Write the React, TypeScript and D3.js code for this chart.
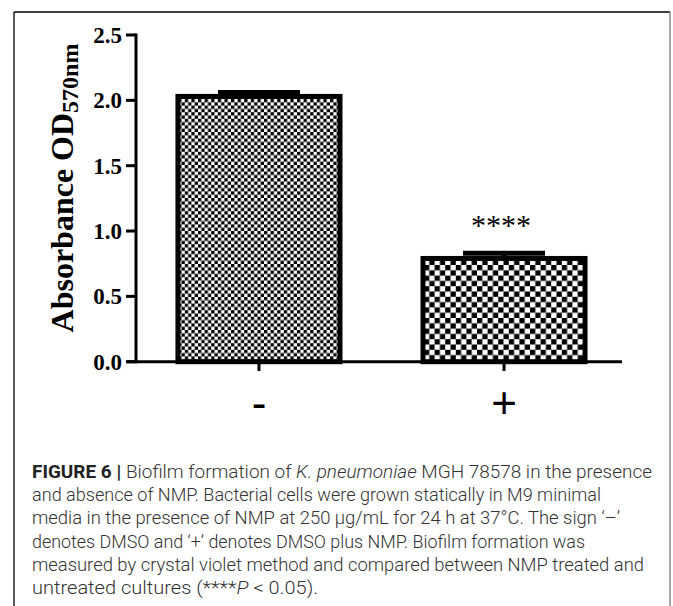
import React from "react";
import * as d3 from "d3";

const categories = ["-", "+"];
const means = [2.03, 0.79];
const errors = [0.03, 0.04];
const yTicks = [0, 0.5, 1.0, 1.5, 2.0, 2.5];
const significance = ["", "****"];
const patternCells = [3.3, 5.3];

const captionLines: { t: string; b?: boolean; i?: boolean }[][] = [
  [
    { t: "FIGURE 6 | ", b: true },
    { t: "Biofilm formation of " },
    { t: "K. pneumoniae", i: true },
    { t: " MGH 78578 in the presence" },
  ],
  [{ t: "and absence of NMP. Bacterial cells were grown statically in M9 minimal" }],
  [{ t: "media in the presence of NMP at 250 \u00b5g/mL for 24 h at 37\u00b0C. The sign \u2018\u2013\u2019" }],
  [{ t: "denotes DMSO and \u2018+\u2019 denotes DMSO plus NMP. Biofilm formation was" }],
  [{ t: "measured by crystal violet method and compared between NMP treated and" }],
  [{ t: "untreated cultures (****" }, { t: "P", i: true }, { t: " < 0.05)." }],
];

export default function App() {
  const W = 673;
  const H = 606;
  const axisX = 136;
  const captionWidths = [620, 569, 588, 553, 612, 286];
  const y = d3.scaleLinear().domain([0, 2.5]).range([361.7, 35]);
  const x = d3
    .scaleBand<string>()
    .domain(categories)
    .range([136, 627])
    .paddingInner(0.3184)
    .paddingOuter(0.161);
  const bw = x.bandwidth();
  const sw = 5;
  const y0 = y(0);

  return (
    <svg
      width={W}
      height={H}
      style={{ position: "absolute", left: 0, top: 0, background: "#fff" }}
    >
      <defs>
        {patternCells.map((c, i) => (
          <pattern
            key={i}
            id={`chk${i}`}
            patternUnits="userSpaceOnUse"
            width={2 * c}
            height={2 * c}
          >
            <rect width={2 * c} height={2 * c} fill="#fff" />
            <rect x={0} y={0} width={c} height={c} fill="#000" />
            <rect x={c} y={c} width={c} height={c} fill="#000" />
          </pattern>
        ))}
      </defs>

      {/* frame */}
      <line x1={14} y1={12} x2={14} y2={H} stroke="#222" strokeWidth={1.5} />
      <line x1={14} y1={12} x2={670} y2={12} stroke="#000" strokeWidth={1.5} />
      <line x1={670} y1={12} x2={670} y2={H} stroke="#888" strokeWidth={1.5} />

      {/* bars */}
      {categories.map((c, i) => {
        const x0 = x(c)!;
        const top = y(means[i]);
        const cx = x0 + bw / 2;
        const eTop = y(means[i] + errors[i]);
        return (
          <g key={c}>
            <line x1={cx} x2={cx} y1={top} y2={eTop} stroke="#000" strokeWidth={sw} />
            <line x1={cx - 41} x2={cx + 41} y1={eTop} y2={eTop} stroke="#000" strokeWidth={sw} />
            <rect
              x={x0 + sw / 2}
              y={top}
              width={bw - sw}
              height={y0 - top}
              fill={`url(#chk${i})`}
              stroke="#000"
              strokeWidth={sw}
            />
            {significance[i] && (
              <text
                x={cx - 3}
                y={235}
                textAnchor="middle"
                fontFamily="'Liberation Serif', 'Times New Roman', serif"
                fontSize={30}
              >
                {significance[i]}
              </text>
            )}
          </g>
        );
      })}

      {/* y axis */}
      <line x1={axisX} x2={axisX} y1={y(2.5) - 1.5} y2={y0 + 1.5} stroke="#000" strokeWidth={3} />
      {yTicks.map((t) => (
        <g key={t}>
          <line x1={126} x2={axisX} y1={y(t)} y2={y(t)} stroke="#000" strokeWidth={3} />
          <text
            x={122}
            y={y(t)}
            dy="0.35em"
            textAnchor="end"
            fontFamily="'Liberation Serif', 'Times New Roman', serif"
            fontWeight="bold"
            fontSize={23}
          >
            {t.toFixed(1)}
          </text>
        </g>
      ))}

      {/* x axis */}
      <line x1={126} x2={622} y1={y0} y2={y0} stroke="#000" strokeWidth={3} />
      {categories.map((c) => {
        const cx = x(c)! + bw / 2;
        return (
          <g key={c}>
            <line x1={cx} x2={cx} y1={y0} y2={371} stroke="#000" strokeWidth={3} />
            <text
              x={cx}
              y={418}
              textAnchor="middle"
              fontFamily="'Liberation Sans', Arial, sans-serif"
              fontSize={44}
            >
              {c}
            </text>
          </g>
        );
      })}

      {/* y label */}
      <text
        transform={`translate(73, 188) rotate(-90)`}
        textAnchor="middle"
        fontFamily="'Liberation Serif', 'Times New Roman', serif"
        fontWeight="bold"
        fontSize={32}
      >
        Absorbance OD
        <tspan fontSize={24} dy={5}>
          570nm
        </tspan>
      </text>

      {/* caption */}
      {captionLines.map((line, li) => (
        <text
          key={li}
          x={32}
          y={478 + li * 23.2}
          fontFamily="Roboto, 'Liberation Sans', sans-serif"
          fontWeight={300}
          fontSize={19}
          fill="#333"
          textLength={captionWidths[li]}
          lengthAdjust="spacingAndGlyphs"
        >
          {line.map((s, si) => (
            <tspan
              key={si}
              fontWeight={s.b ? 700 : 300}
              fontStyle={s.i ? "italic" : "normal"}
              fill={s.b ? "#222" : "#333"}
            >
              {s.t}
            </tspan>
          ))}
        </text>
      ))}
    </svg>
  );
}
